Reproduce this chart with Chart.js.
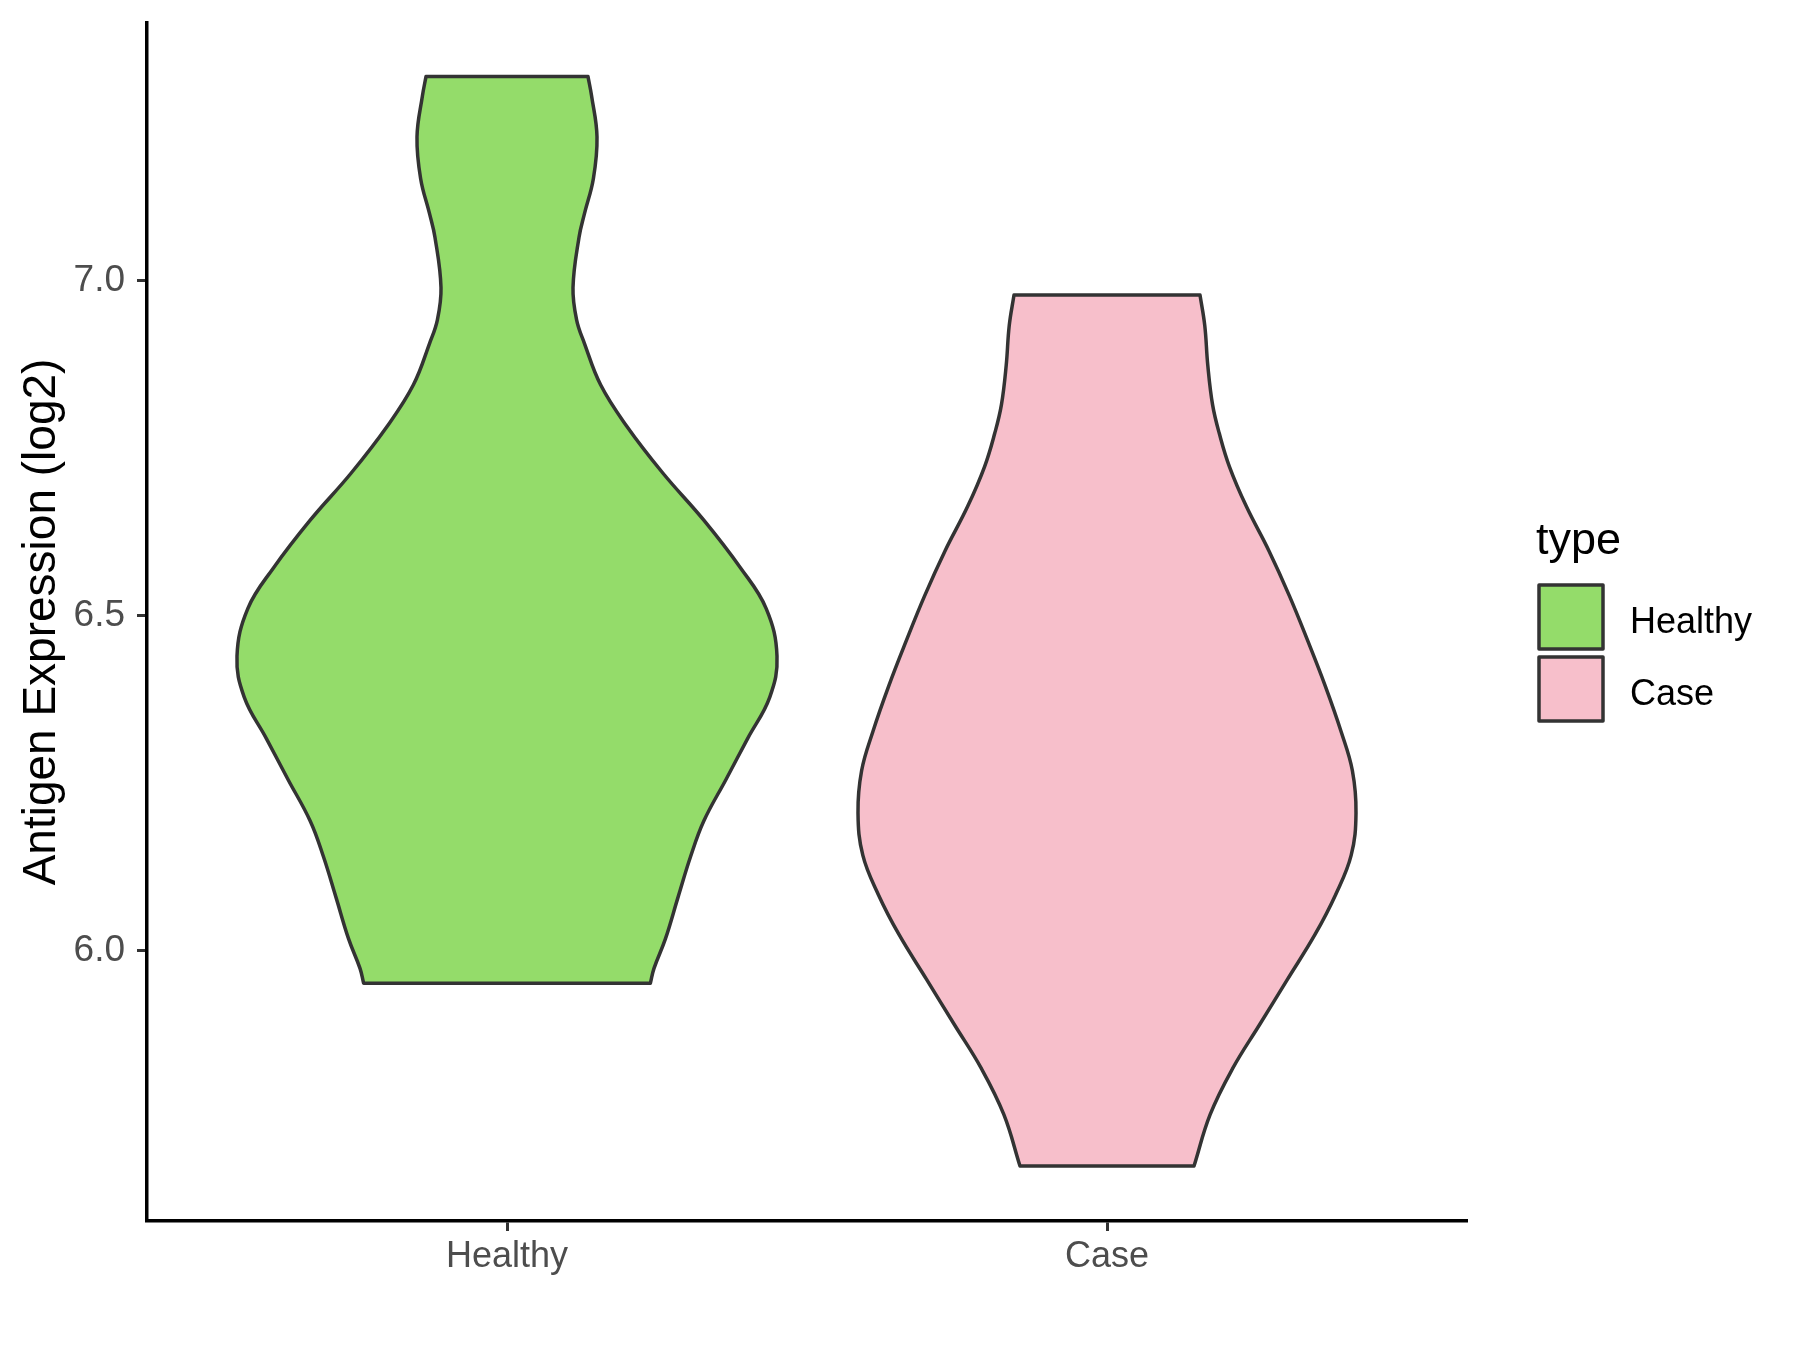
<!DOCTYPE html>
<html>
<head>
<meta charset="utf-8">
<script src="https://cdn.jsdelivr.net/npm/chart.js@4.4.1/dist/chart.umd.min.js"></script>
<style>
  html, body { margin: 0; padding: 0; background: #fff; }
  #wrap { width: 1800px; height: 1350px; }
</style>
</head>
<body>
<div id="wrap"><canvas id="violin" width="1800" height="1350"></canvas></div>
<script>
const groups = ["Healthy", "Case"];
const groupColors = ["#94DC6A", "#F7BFCB"];
const yTicks = [6.0, 6.5, 7.0];

// violin outlines: expression level and half width (in category units)
const healthyLevels = [5.952, 5.974, 6.018, 6.080, 6.141, 6.194, 6.256, 6.317, 6.379, 6.440, 6.511, 6.572, 6.643, 6.713, 6.784, 6.845, 6.907, 6.942, 6.990, 7.065, 7.100, 7.153, 7.215, 7.276, 7.305];
const healthyHalfWidth = [0.239, 0.245, 0.264, 0.285, 0.306, 0.328, 0.365, 0.401, 0.438, 0.450, 0.432, 0.389, 0.328, 0.260, 0.199, 0.156, 0.129, 0.116, 0.110, 0.120, 0.129, 0.144, 0.150, 0.141, 0.135];

const caseLevels = [5.679, 5.756, 5.824, 5.891, 5.958, 6.025, 6.084, 6.143, 6.206, 6.269, 6.328, 6.395, 6.462, 6.530, 6.597, 6.664, 6.723, 6.773, 6.815, 6.874, 6.933, 6.979];
const caseHalfWidth = [0.145, 0.172, 0.209, 0.255, 0.301, 0.347, 0.381, 0.407, 0.415, 0.409, 0.390, 0.364, 0.335, 0.304, 0.270, 0.232, 0.204, 0.187, 0.176, 0.168, 0.163, 0.155];

const family = "'Liberation Sans', Arial, sans-serif";

// closed outline: up the right side, across the top, down the left side, back along the bottom.
// corner points are doubled so the spline keeps them sharp
function outline(center, levels, half) {
    const n = levels.length;
    const pts = [];
    pts.push({ x: center + half[0], y: levels[0] });
    for (let i = 1; i < n - 1; i++) pts.push({ x: center + half[i], y: levels[i] });
    pts.push({ x: center + half[n - 1], y: levels[n - 1] });
    pts.push({ x: center + half[n - 1], y: levels[n - 1] });
    pts.push({ x: center - half[n - 1], y: levels[n - 1] });
    pts.push({ x: center - half[n - 1], y: levels[n - 1] });
    for (let i = n - 2; i > 0; i--) pts.push({ x: center - half[i], y: levels[i] });
    pts.push({ x: center - half[0], y: levels[0] });
    pts.push({ x: center - half[0], y: levels[0] });
    pts.push({ x: center + half[0], y: levels[0] });
    return pts;
}

const typeLegend = {
    id: "typeLegend",
    afterDraw(chart) {
        const ctx = chart.ctx;
        ctx.save();
        ctx.textAlign = "left";
        ctx.textBaseline = "alphabetic";
        ctx.fillStyle = "#000000";
        ctx.font = `45px ${family}`;
        ctx.fillText("type", 1536, 554);
        chart.data.datasets.forEach((ds, i) => {
            const top = 585 + i * 72;
            ctx.fillStyle = ds.backgroundColor;
            ctx.fillRect(1539, top, 64, 64);
            ctx.lineWidth = 3.5;
            ctx.lineJoin = "round";
            ctx.strokeStyle = "#333333";
            ctx.strokeRect(1539, top, 64, 64);
            ctx.fillStyle = "#000000";
            ctx.font = `36px ${family}`;
            ctx.fillText(ds.label, 1630, top + 48);
        });
        ctx.restore();
    }
};

const violinSet = (i, levels, half) => ({
    label: groups[i],
    data: outline(i + 1, levels, half),
    showLine: true,
    fill: "shape",
    backgroundColor: groupColors[i],
    borderColor: "#333333",
    borderWidth: 3.5,
    tension: 0.4,
    borderJoinStyle: "round",
    borderCapStyle: "round",
    pointRadius: 0,
    pointHoverRadius: 0,
});

new Chart(document.getElementById("violin"), {
    type: "scatter",
    data: {
        datasets: [
            violinSet(0, healthyLevels, healthyHalfWidth),
            violinSet(1, caseLevels, caseHalfWidth),
        ],
    },
    options: {
        responsive: false,
        animation: false,
        devicePixelRatio: 1,
        layout: { padding: { top: 23, right: 333, bottom: 0, left: 0 } },
        plugins: {
            legend: { display: false },
            tooltip: { enabled: false },
        },
        scales: {
            x: {
                type: "linear",
                min: 0.4,
                max: 2.6,
                afterBuildTicks: (s) => { s.ticks = [1, 2].map((v) => ({ value: v })); },
                afterFit: (s) => { s.height = 129; s.paddingLeft = 0; s.paddingRight = 0; },
                grid: { drawOnChartArea: false, drawTicks: true, tickLength: 10, tickWidth: 3, tickColor: "#333333" },
                border: { display: true, color: "#000000", width: 3.5 },
                ticks: {
                    color: "#4D4D4D",
                    font: { family: family, size: 36 },
                    padding: 4,
                    maxRotation: 0,
                    callback: (v) => groups[v - 1],
                },
            },
            y: {
                type: "linear",
                min: 5.597,
                max: 7.385,
                afterBuildTicks: (s) => { s.ticks = yTicks.map((v) => ({ value: v })); },
                afterFit: (s) => { s.width = 147; s.paddingTop = 0; s.paddingBottom = 0; },
                grid: { drawOnChartArea: false, drawTicks: true, tickLength: 10, tickWidth: 3, tickColor: "#333333" },
                border: { display: true, color: "#000000", width: 3.5 },
                ticks: {
                    color: "#4D4D4D",
                    font: { family: family, size: 37 },
                    padding: 12,
                    callback: (v) => v.toFixed(1),
                },
                title: {
                    display: true,
                    text: "Antigen Expression (log2)",
                    color: "#000000",
                    font: { family: family, size: 46 },
                    padding: { top: 15, bottom: 0 },
                },
            },
        },
    },
    plugins: [typeLegend],
});
</script>
</body>
</html>
